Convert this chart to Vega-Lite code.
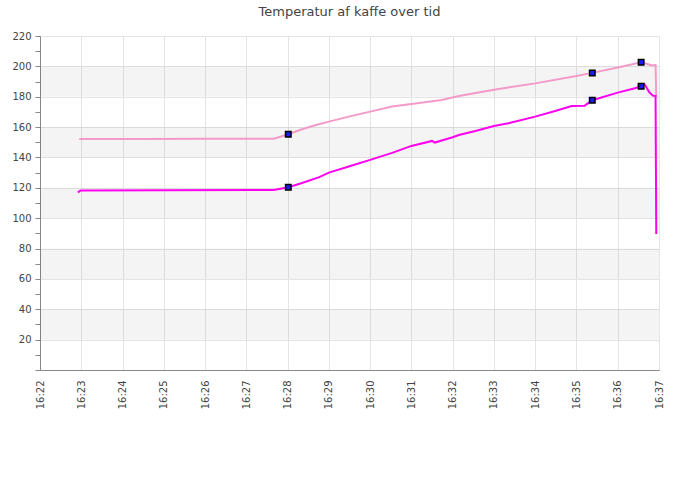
{
  "$schema": "https://vega.github.io/schema/vega-lite/v6.json",
  "description": "Temperatur af kaffe over tid, two sensors.",
  "autosize": "none",
  "width": 619,
  "height": 334,
  "padding": {"left": 40, "top": 36, "right": 41, "bottom": 130},
  "title": {
    "text": "Temperatur af kaffe over tid",
    "font": "DejaVu Sans",
    "fontSize": 13,
    "fontWeight": "normal",
    "color": "#444",
    "offset": 12
  },
  "config": {
    "view": {"stroke": null},
    "axis": {
      "labelFont": "DejaVu Sans",
      "labelFontSize": 10,
      "labelColor": "#444",
      "domainColor": "#888",
      "tickColor": "#888",
      "gridColor": "#e4e4e4"
    }
  },
  "datasets": {
    "bands": [
      {"lo": 20, "hi": 40},
      {"lo": 60, "hi": 80},
      {"lo": 100, "hi": 120},
      {"lo": 140, "hi": 160},
      {"lo": 180, "hi": 200}
    ],
    "readings": [
      {"tid": "2024-01-01T16:22:57", "temp": 152.2, "serie": "B"},
      {"tid": "2024-01-01T16:24:30", "temp": 152.2, "serie": "B"},
      {"tid": "2024-01-01T16:26:00", "temp": 152.3, "serie": "B"},
      {"tid": "2024-01-01T16:27:40", "temp": 152.3, "serie": "B"},
      {"tid": "2024-01-01T16:28:01", "temp": 155.3, "serie": "B"},
      {"tid": "2024-01-01T16:28:21", "temp": 158.6, "serie": "B"},
      {"tid": "2024-01-01T16:28:40", "temp": 161.2, "serie": "B"},
      {"tid": "2024-01-01T16:29:00", "temp": 163.6, "serie": "B"},
      {"tid": "2024-01-01T16:29:29", "temp": 166.9, "serie": "B"},
      {"tid": "2024-01-01T16:30:00", "temp": 170.2, "serie": "B"},
      {"tid": "2024-01-01T16:30:32", "temp": 173.5, "serie": "B"},
      {"tid": "2024-01-01T16:31:00", "temp": 175.2, "serie": "B"},
      {"tid": "2024-01-01T16:31:44", "temp": 177.9, "serie": "B"},
      {"tid": "2024-01-01T16:32:09", "temp": 180.5, "serie": "B"},
      {"tid": "2024-01-01T16:33:00", "temp": 184.6, "serie": "B"},
      {"tid": "2024-01-01T16:34:00", "temp": 188.8, "serie": "B"},
      {"tid": "2024-01-01T16:35:00", "temp": 193.7, "serie": "B"},
      {"tid": "2024-01-01T16:35:23", "temp": 195.7, "serie": "B"},
      {"tid": "2024-01-01T16:36:00", "temp": 199.2, "serie": "B"},
      {"tid": "2024-01-01T16:36:34", "temp": 202.7, "serie": "B"},
      {"tid": "2024-01-01T16:36:44", "temp": 201.4, "serie": "B"},
      {"tid": "2024-01-01T16:36:50", "temp": 200.6, "serie": "B"},
      {"tid": "2024-01-01T16:36:55", "temp": 201.0, "serie": "B"},
      {"tid": "2024-01-01T16:36:56", "temp": 180.0, "serie": "B"},
      {"tid": "2024-01-01T16:22:55", "temp": 117.0, "serie": "A"},
      {"tid": "2024-01-01T16:22:59", "temp": 118.2, "serie": "A"},
      {"tid": "2024-01-01T16:25:00", "temp": 118.4, "serie": "A"},
      {"tid": "2024-01-01T16:27:40", "temp": 118.5, "serie": "A"},
      {"tid": "2024-01-01T16:28:01", "temp": 120.4, "serie": "A"},
      {"tid": "2024-01-01T16:28:21", "temp": 123.2, "serie": "A"},
      {"tid": "2024-01-01T16:28:46", "temp": 127.0, "serie": "A"},
      {"tid": "2024-01-01T16:29:00", "temp": 130.0, "serie": "A"},
      {"tid": "2024-01-01T16:29:29", "temp": 134.0, "serie": "A"},
      {"tid": "2024-01-01T16:30:00", "temp": 138.4, "serie": "A"},
      {"tid": "2024-01-01T16:30:32", "temp": 143.0, "serie": "A"},
      {"tid": "2024-01-01T16:31:00", "temp": 147.6, "serie": "A"},
      {"tid": "2024-01-01T16:31:30", "temp": 150.9, "serie": "A"},
      {"tid": "2024-01-01T16:31:34", "temp": 149.8, "serie": "A"},
      {"tid": "2024-01-01T16:32:00", "temp": 153.3, "serie": "A"},
      {"tid": "2024-01-01T16:32:09", "temp": 154.8, "serie": "A"},
      {"tid": "2024-01-01T16:32:33", "temp": 157.4, "serie": "A"},
      {"tid": "2024-01-01T16:33:00", "temp": 160.7, "serie": "A"},
      {"tid": "2024-01-01T16:33:21", "temp": 162.5, "serie": "A"},
      {"tid": "2024-01-01T16:34:00", "temp": 166.9, "serie": "A"},
      {"tid": "2024-01-01T16:34:29", "temp": 170.6, "serie": "A"},
      {"tid": "2024-01-01T16:34:53", "temp": 173.9, "serie": "A"},
      {"tid": "2024-01-01T16:35:12", "temp": 174.1, "serie": "A"},
      {"tid": "2024-01-01T16:35:23", "temp": 177.7, "serie": "A"},
      {"tid": "2024-01-01T16:36:00", "temp": 182.7, "serie": "A"},
      {"tid": "2024-01-01T16:36:25", "temp": 185.6, "serie": "A"},
      {"tid": "2024-01-01T16:36:34", "temp": 186.9, "serie": "A"},
      {"tid": "2024-01-01T16:36:39", "temp": 188.2, "serie": "A"},
      {"tid": "2024-01-01T16:36:46", "temp": 182.9, "serie": "A"},
      {"tid": "2024-01-01T16:36:51", "temp": 180.7, "serie": "A"},
      {"tid": "2024-01-01T16:36:55", "temp": 180.5, "serie": "A"},
      {"tid": "2024-01-01T16:36:56", "temp": 89.6, "serie": "A"}
    ],
    "markers": [
      {"tid": "2024-01-01T16:28:01", "temp": 155.3},
      {"tid": "2024-01-01T16:35:23", "temp": 195.7},
      {"tid": "2024-01-01T16:36:34", "temp": 202.7},
      {"tid": "2024-01-01T16:28:01", "temp": 120.4},
      {"tid": "2024-01-01T16:35:23", "temp": 177.7},
      {"tid": "2024-01-01T16:36:34", "temp": 186.9}
    ]
  },
  "resolve": {"axis": {"y": "independent"}},
  "layer": [
    {
      "data": {"name": "bands"},
      "mark": {"type": "rect", "fill": "#000", "fillOpacity": 0.045},
      "encoding": {
        "y": {
          "field": "lo",
          "type": "quantitative",
          "scale": {"domain": [0, 220], "nice": false},
          "axis": {
            "title": null,
            "orient": "left",
            "values": [20, 40, 60, 80, 100, 120, 140, 160, 180, 200, 220],
            "tickSize": 5,
            "labelPadding": 4
          }
        },
        "y2": {"field": "hi"}
      }
    },
    {
      "data": {"name": "readings"},
      "mark": {"type": "line", "strokeWidth": 2, "interpolate": "linear"},
      "encoding": {
        "x": {
          "field": "tid",
          "type": "temporal",
          "scale": {"nice": "minute"},
          "axis": {
            "title": null,
            "format": "%H:%M",
            "tickCount": 15,
            "labelAngle": 270,
            "labelAlign": "right",
            "labelBaseline": "middle",
            "ticks": false,
            "labelPadding": 10,
            "labelFlush": false,
            "labelOverlap": false
          }
        },
        "y": {
          "field": "temp",
          "type": "quantitative",
          "axis": {
            "title": null,
            "orient": "left",
            "values": [0, 10, 30, 50, 70, 90, 110, 130, 150, 170, 190, 210],
            "labels": false,
            "grid": false,
            "domain": false,
            "tickSize": 5
          }
        },
        "color": {
          "field": "serie",
          "type": "nominal",
          "scale": {"domain": ["A", "B"], "range": ["#ff00f0", "#f49ac9"]},
          "legend": null
        }
      }
    },
    {
      "data": {"name": "markers"},
      "mark": {"type": "point", "shape": "square", "filled": true, "fill": "#1a1aff", "stroke": "#000", "strokeWidth": 1.5, "size": 30, "opacity": 1},
      "encoding": {
        "x": {"field": "tid", "type": "temporal"},
        "y": {"field": "temp", "type": "quantitative", "axis": null}
      }
    }
  ]
}
